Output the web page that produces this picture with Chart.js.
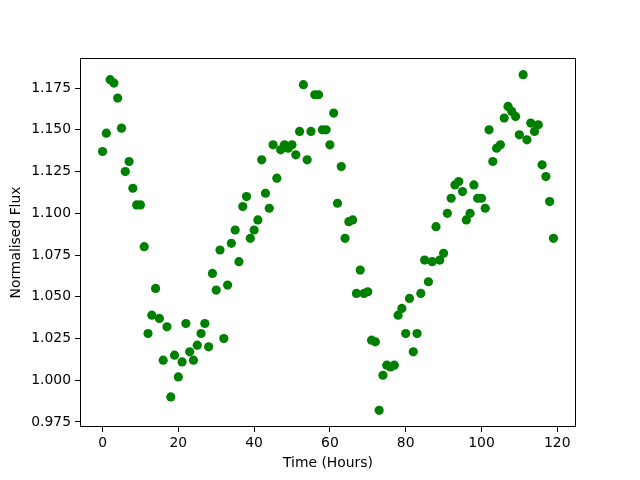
<!DOCTYPE html>
<html>
<head>
<meta charset="utf-8">
<script src="https://cdn.jsdelivr.net/npm/chart.js@4"></script>
<style>
  body { margin: 0; background: #fff; }
</style>
</head>
<body>
<canvas id="fluxChart" width="640" height="480"></canvas>
<script>
// Hours 0..119
const hours = Array.from({ length: 120 }, (_, i) => i);
const flux = [
  1.137, 1.148, 1.180, 1.178, 1.169, 1.151, 1.125, 1.131, 1.115, 1.105,
  1.105, 1.080, 1.028, 1.039, 1.055, 1.037, 1.012, 1.032, 0.990, 1.015,
  1.002, 1.011, 1.034, 1.017, 1.012, 1.021, 1.028, 1.034, 1.020, 1.064,
  1.054, 1.078, 1.025, 1.057, 1.082, 1.090, 1.071, 1.104, 1.110, 1.085,
  1.090, 1.096, 1.132, 1.112, 1.103, 1.141, 1.121, 1.138, 1.141, 1.139,
  1.141, 1.135, 1.149, 1.177, 1.132, 1.149, 1.171, 1.171, 1.150, 1.150,
  1.141, 1.160, 1.106, 1.128, 1.085, 1.095, 1.096, 1.052, 1.066, 1.052,
  1.053, 1.024, 1.023, 0.982, 1.003, 1.009, 1.008, 1.009, 1.039, 1.043,
  1.028, 1.049, 1.017, 1.028, 1.052, 1.072, 1.059, 1.071, 1.092, 1.072,
  1.076, 1.100, 1.109, 1.117, 1.119, 1.113, 1.096, 1.100, 1.117, 1.109,
  1.109, 1.103, 1.150, 1.131, 1.139, 1.141, 1.157, 1.164, 1.161, 1.158,
  1.147, 1.183, 1.144, 1.154, 1.149, 1.153, 1.129, 1.122, 1.107, 1.085
];
const xTicks = [0, 20, 40, 60, 80, 100, 120];
const yTicks = [0.975, 1.000, 1.025, 1.050, 1.075, 1.100, 1.125, 1.150, 1.175];

const font = { family: 'DejaVu Sans', size: 13.9 };

// draws the full box around the plot area, like matplotlib's spines
const frame = {
  id: 'frame',
  afterDraw(chart) {
    const { ctx, chartArea: a } = chart;
    ctx.save();
    ctx.strokeStyle = '#000';
    ctx.lineWidth = 1;
    ctx.strokeRect(a.left + 0.5, a.top + 0.5, a.right - a.left - 1, a.bottom - a.top - 1);
    ctx.restore();
  }
};

new Chart(document.getElementById('fluxChart'), {
  type: 'scatter',
  data: {
    datasets: [{
      data: hours.map((h, i) => ({ x: h, y: flux[i] })),
      backgroundColor: 'green',
      borderColor: 'green',
      borderWidth: 0,
      pointRadius: 4.6
    }]
  },
  options: {
    responsive: false,
    animation: false,
    layout: { padding: { top: 58, right: 64, left: 0, bottom: 0 } },
    plugins: { legend: { display: false }, tooltip: { enabled: false } },
    scales: {
      x: {
        type: 'linear',
        min: -5.95,
        max: 124.95,
        afterBuildTicks: s => { s.ticks = xTicks.map(v => ({ value: v })); },
        afterFit: s => { s.height = 53; },
        grid: { drawOnChartArea: false, drawTicks: true, tickLength: 5, color: '#000' },
        border: { display: false },
        ticks: { color: '#000', font, padding: 3, maxRotation: 0 },
        title: { display: true, text: 'Time (Hours)', color: '#000', font, padding: { top: 0, bottom: 8 } }
      },
      y: {
        type: 'linear',
        min: 0.972,
        max: 1.193,
        afterBuildTicks: s => { s.ticks = yTicks.map(v => ({ value: v })); },
        afterFit: s => { s.width = 80; },
        grid: { drawOnChartArea: false, drawTicks: true, tickLength: 5, color: '#000' },
        border: { display: false },
        ticks: { color: '#000', font, padding: 4, callback: v => v.toFixed(3) },
        title: { display: true, text: 'Normalised Flux', color: '#000', font, padding: { top: 8, bottom: 0 } }
      }
    }
  },
  plugins: [frame]
});
</script>
</body>
</html>
